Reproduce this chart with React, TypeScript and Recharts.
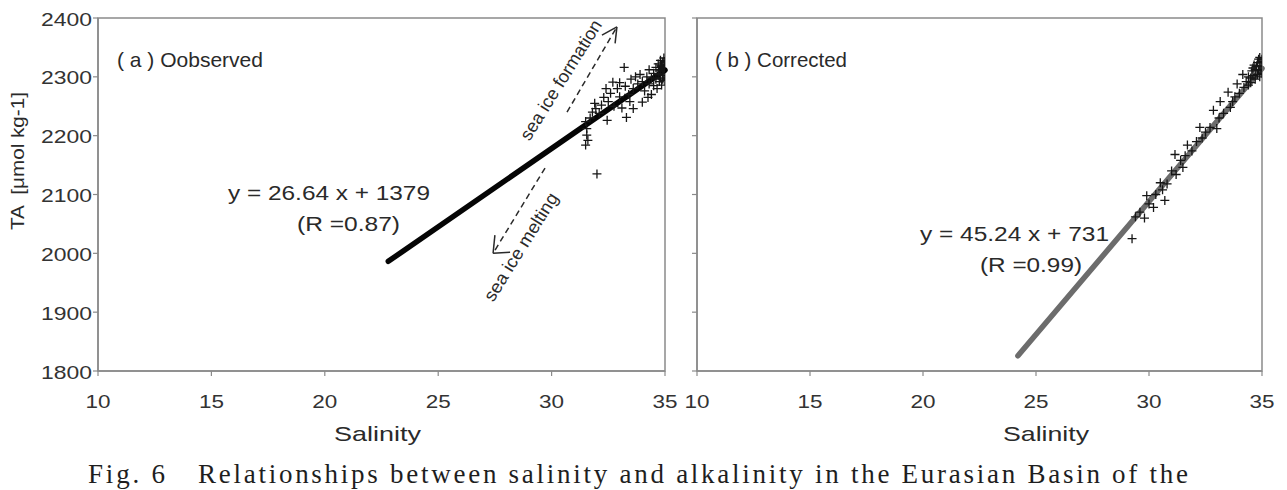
import React from "react";
import {
  ScatterChart,
  Scatter,
  XAxis,
  YAxis,
  ReferenceLine,
  ReferenceArea,
} from "recharts";

// axis ticks shared by both panels
const salinityTicks = [10, 15, 20, 25, 30, 35];
const alkalinityTicks = [1800, 1900, 2000, 2100, 2200, 2300, 2400];

// (a) observed samples: [salinity, TA]
const observed: [number, number][] = [
  [31.5, 2224], [31.55, 2212], [31.55, 2201], [31.6, 2192], [31.5, 2184],
  [31.7, 2230], [32.0, 2135], [31.8, 2240], [31.95, 2246], [32.1, 2238],
  [32.2, 2252], [32.3, 2265], [32.45, 2226], [32.5, 2258], [32.6, 2272],
  [32.7, 2291], [32.75, 2250], [32.9, 2280], [33.0, 2266], [33.1, 2247],
  [33.2, 2316], [33.25, 2284], [33.3, 2231], [33.4, 2270], [33.5, 2296],
  [33.6, 2246], [33.6, 2280], [33.7, 2300], [33.8, 2288], [33.9, 2304],
  [34.0, 2257], [34.0, 2292], [34.1, 2276], [34.2, 2300], [34.3, 2288],
  [34.3, 2312], [34.4, 2270], [34.4, 2298], [34.5, 2306], [34.5, 2285],
  [34.6, 2296], [34.6, 2316], [34.65, 2280], [34.7, 2304], [34.7, 2322],
  [34.75, 2292], [34.8, 2310], [34.8, 2328], [34.8, 2298], [34.85, 2318],
  [34.85, 2286], [34.9, 2306], [34.9, 2325], [34.9, 2296], [34.92, 2314],
  [34.95, 2332], [34.95, 2302], [34.95, 2320], [35.0, 2310], [35.0, 2294],
  [35.0, 2326], [34.98, 2316], [34.88, 2312], [34.82, 2320], [34.72, 2312],
  [33.0, 2290], [32.4, 2280], [31.9, 2255], [33.45, 2258], [34.25, 2265],
];

// (b) corrected samples: [salinity, TA]
const corrected: [number, number][] = [
  [29.25, 2025], [29.4, 2062], [29.6, 2070], [29.8, 2060], [29.9, 2098],
  [30.0, 2084], [30.2, 2078], [30.3, 2100], [30.5, 2120], [30.6, 2108],
  [30.7, 2090], [30.8, 2118], [31.0, 2140], [31.15, 2168], [31.2, 2134],
  [31.4, 2158], [31.5, 2146], [31.6, 2166], [31.7, 2184], [31.9, 2174],
  [32.1, 2190], [32.25, 2214], [32.35, 2196], [32.5, 2206], [32.7, 2214],
  [32.85, 2243], [33.0, 2212], [33.1, 2230], [33.15, 2258], [33.3, 2238],
  [33.5, 2274], [33.6, 2248], [33.7, 2258], [33.8, 2266], [33.9, 2288],
  [34.0, 2272], [34.15, 2304], [34.2, 2282], [34.3, 2292], [34.4, 2286],
  [34.4, 2300], [34.5, 2298], [34.5, 2290], [34.55, 2310], [34.6, 2302],
  [34.65, 2320], [34.7, 2296], [34.7, 2312], [34.75, 2318], [34.8, 2304],
  [34.8, 2324], [34.85, 2312], [34.85, 2330], [34.9, 2300], [34.9, 2318],
  [34.95, 2310], [34.95, 2326], [35.0, 2306], [35.0, 2318], [35.0, 2330],
  [34.9, 2333], [34.6, 2315],
];

// linear fits printed on each panel
const fitObserved = { slope: 26.64, intercept: 1379, from: 22.8, to: 35 };
const fitCorrected = { slope: 45.24, intercept: 731, from: 24.2, to: 35 };

// sea ice arrows in (salinity, TA) units: shaft start, tip, two barbs
const formationArrow = [[30.68, 2240], [32.88, 2385], [32.22, 2371], [32.8, 2357]];
const meltingArrow = [[29.71, 2145], [27.42, 2000], [27.5, 2031], [28.17, 2002]];

const FONT = "'Liberation Sans', Arial, sans-serif";
const SERIF = "'Liberation Serif', 'DejaVu Serif', serif";
const AXIS = "#8a8a8a";
const INK = "#2a2a2a";

const toPoints = (rows: [number, number][]) => rows.map(([s, ta]) => ({ s, ta }));

const fitSegment = (f: typeof fitObserved) => [
  { x: f.from, y: f.slope * f.from + f.intercept },
  { x: f.to, y: f.slope * f.to + f.intercept },
];

const Cross = (props: any) => {
  const { cx, cy } = props;
  if (cx == null || cy == null) return <g />;
  return (
    <path
      d={`M${cx - 4.5},${cy}h9M${cx},${cy - 4.5}v9`}
      stroke="#161616"
      strokeWidth={1.3}
      fill="none"
    />
  );
};

const YTick = (props: any) => {
  const { x, y, payload } = props;
  return (
    <text
      x={x - 1}
      y={y + 7.5}
      textAnchor="end"
      fontFamily={FONT}
      fontSize={19}
      fill="#333"
      textLength={51}
      lengthAdjust="spacingAndGlyphs"
    >
      {payload.value}
    </text>
  );
};

const XTick = (props: any) => {
  const { x, y, payload } = props;
  return (
    <text
      x={x}
      y={y + 32}
      textAnchor="middle"
      fontFamily={FONT}
      fontSize={19}
      fill="#333"
      textLength={25}
      lengthAdjust="spacingAndGlyphs"
    >
      {payload.value}
    </text>
  );
};

const NoTick = () => <g />;

function Arrow({ pts }: { pts: number[][] }) {
  const [start, tip, b1, b2] = pts;
  return (
    <>
      <ReferenceLine
        segment={[{ x: start[0], y: start[1] }, { x: tip[0], y: tip[1] }]}
        stroke={INK}
        strokeWidth={1.5}
        strokeDasharray="6 4"
        ifOverflow="visible"
      />
      <ReferenceLine
        segment={[{ x: b1[0], y: b1[1] }, { x: tip[0], y: tip[1] }]}
        stroke={INK}
        strokeWidth={1.5}
        ifOverflow="visible"
      />
      <ReferenceLine
        segment={[{ x: b2[0], y: b2[1] }, { x: tip[0], y: tip[1] }]}
        stroke={INK}
        strokeWidth={1.5}
        ifOverflow="visible"
      />
    </>
  );
}

function Panel({
  rows,
  fit,
  fitColor,
  showYLabels,
  width,
  yAxisWidth,
  rightMargin,
  arrows,
}: {
  rows: [number, number][];
  fit: typeof fitObserved;
  fitColor: string;
  showYLabels: boolean;
  width: number;
  yAxisWidth: number;
  rightMargin: number;
  arrows: boolean;
}) {
  return (
    <ScatterChart
      width={width}
      height={431}
      margin={{ top: 18, right: rightMargin, bottom: 0, left: 0 }}
    >
      <XAxis
        type="number"
        dataKey="s"
        domain={[10, 35]}
        ticks={salinityTicks}
        allowDataOverflow
        height={60}
        tickSize={5}
        tickMargin={0}
        axisLine={{ stroke: AXIS, strokeWidth: 1.5 }}
        tickLine={{ stroke: AXIS, strokeWidth: 1.2 }}
        tick={<XTick />}
      />
      <YAxis
        type="number"
        dataKey="ta"
        domain={[1800, 2400]}
        ticks={alkalinityTicks}
        allowDataOverflow
        width={yAxisWidth}
        tickSize={5}
        tickMargin={0}
        axisLine={{ stroke: AXIS, strokeWidth: 1.5 }}
        tickLine={{ stroke: AXIS, strokeWidth: 1.2 }}
        tick={showYLabels ? <YTick /> : <NoTick />}
      />
      <ReferenceArea
        x1={10}
        x2={35}
        y1={1800}
        y2={2400}
        fill="none"
        stroke={AXIS}
        strokeWidth={1.5}
      />
      <ReferenceLine
        segment={fitSegment(fit)}
        stroke={fitColor}
        strokeWidth={5.5}
        strokeLinecap="round"
        ifOverflow="visible"
      />
      <Scatter
        data={toPoints(rows)}
        shape={<Cross />}
        isAnimationActive={false}
      />
      {arrows && <Arrow pts={formationArrow} />}
      {arrows && <Arrow pts={meltingArrow} />}
    </ScatterChart>
  );
}

function Label({
  x,
  y,
  len,
  size,
  children,
  anchor = "start",
  family = FONT,
  adjust = "spacingAndGlyphs",
  transform,
  fill = INK,
}: any) {
  return (
    <text
      x={x}
      y={y}
      textAnchor={anchor}
      fontFamily={family}
      fontSize={size}
      fill={fill}
      textLength={len}
      lengthAdjust={adjust}
      transform={transform}
      style={{ whiteSpace: "pre" }}
    >
      {children}
    </text>
  );
}

export default function App() {
  return (
    <div
      style={{
        position: "absolute",
        left: 0,
        top: 0,
        width: 1287,
        height: 490,
        background: "#fff",
        overflow: "hidden",
      }}
    >
      <div style={{ position: "absolute", left: 0, top: 0 }}>
        <Panel
          rows={observed}
          fit={fitObserved}
          fitColor="#050505"
          showYLabels
          width={680}
          yAxisWidth={98}
          rightMargin={15}
          arrows
        />
      </div>
      <div style={{ position: "absolute", left: 640, top: 0 }}>
        <Panel
          rows={corrected}
          fit={fitCorrected}
          fitColor="#6c6c6c"
          showYLabels={false}
          width={647}
          yAxisWidth={57}
          rightMargin={25}
          arrows={false}
        />
      </div>

      <svg
        width={1287}
        height={490}
        style={{ position: "absolute", left: 0, top: 0, pointerEvents: "none" }}
      >
        <Label x={0} y={0} len={138} size={19} anchor="middle" transform="translate(24,161) rotate(-90)">
          {"TA  [μmol kg-1]"}
        </Label>

        <Label x={117} y={67} len={146} size={21}>( a ) Oobserved</Label>
        <Label x={715} y={67} len={132} size={21}>( b ) Corrected</Label>

        <Label x={228} y={200} len={202} size={20}>y = 26.64 x + 1379</Label>
        <Label x={297} y={231} len={103} size={20}>(R =0.87)</Label>
        <Label x={920} y={241} len={189} size={20}>y = 45.24 x + 731</Label>
        <Label x={980} y={272} len={102} size={20}>(R =0.99)</Label>

        <Label x={0} y={6} len={138} size={18} anchor="middle" transform="translate(561,80) rotate(-58)">
          sea ice formation
        </Label>
        <Label x={0} y={6} len={124} size={18} anchor="middle" transform="translate(521,247) rotate(-58)">
          sea ice melting
        </Label>

        <Label x={334} y={441} len={87} size={21}>Salinity</Label>
        <Label x={1003} y={441} len={86} size={21}>Salinity</Label>

        <Label x={88} y={483} len={77} size={27} family={SERIF} adjust="spacing" fill="#1e1e1e">
          Fig. 6
        </Label>
        <Label x={198} y={483} len={990} size={27} family={SERIF} adjust="spacing" fill="#1e1e1e">
          Relationships between salinity and alkalinity in the Eurasian Basin of the
        </Label>
      </svg>
    </div>
  );
}
